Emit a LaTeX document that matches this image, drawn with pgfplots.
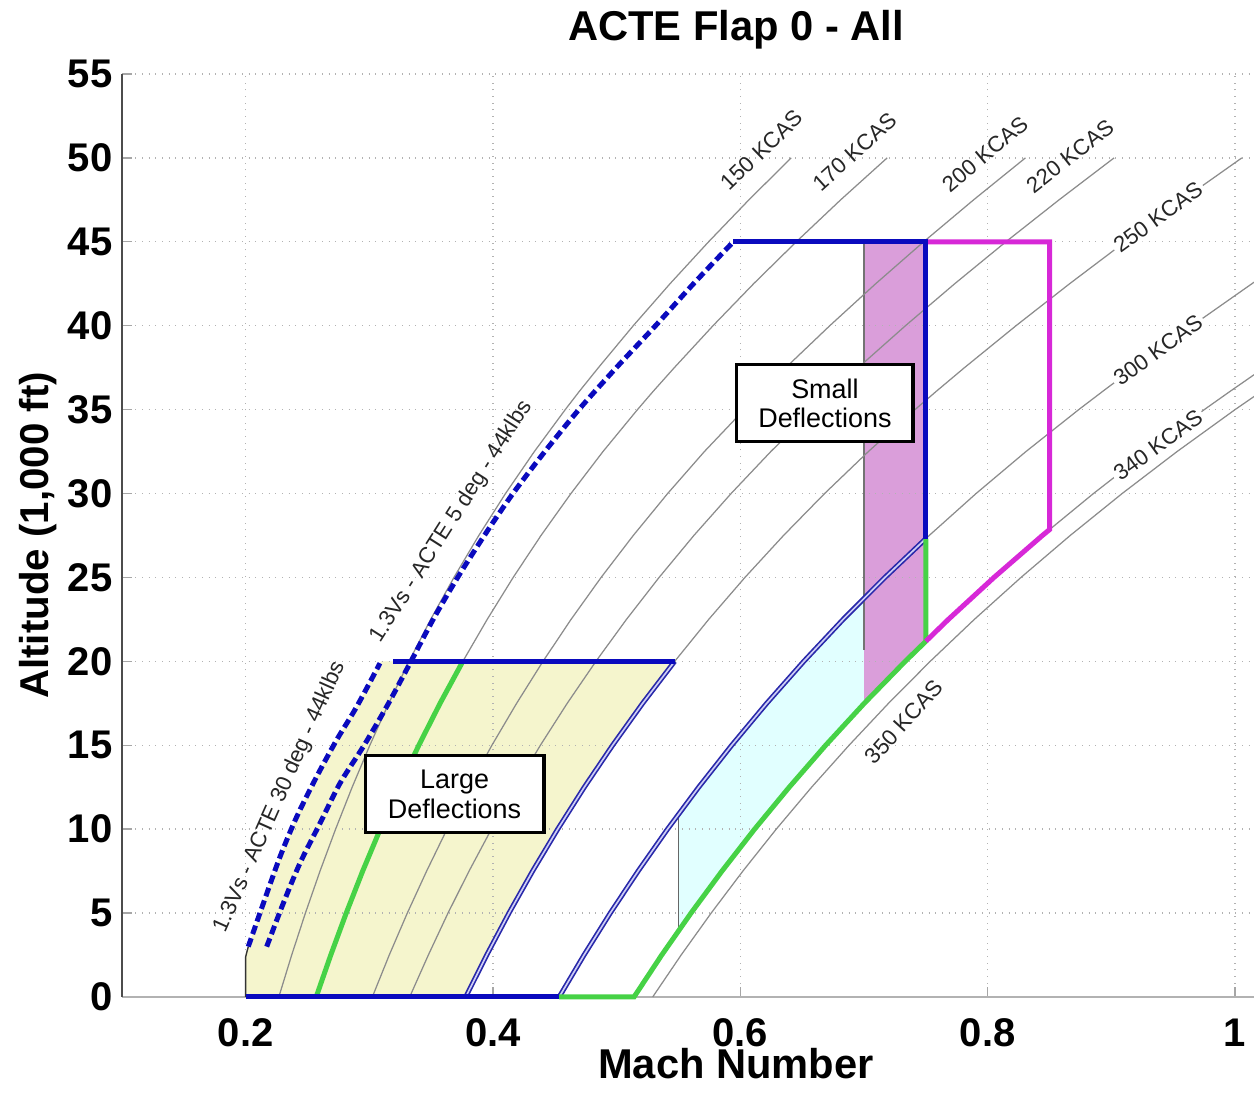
\documentclass[border=0pt]{standalone}
\usepackage{fontspec}
\setmainfont{Liberation Sans}
\usepackage{pgfplots}
\pgfplotsset{compat=1.18}
\definecolor{mblue}{RGB}{10,10,190}
\definecolor{dblue}{RGB}{40,40,170}
\definecolor{lblue}{RGB}{205,205,245}
\definecolor{mgreen}{RGB}{70,210,70}
\definecolor{mmag}{RGB}{215,40,215}
\definecolor{fyel}{RGB}{245,245,205}
\definecolor{fcyan}{RGB}{225,255,255}
\definecolor{fpur}{RGB}{218,158,218}
\tikzset{
  kc/.style={black!45, line width=0.45pt},
  dbl/.style={draw=dblue, double=lblue, line width=0.6pt, double distance=0.6pt},
  thick blue/.style={mblue, line width=1.8pt},
  thick green/.style={mgreen, line width=1.8pt},
  thick mag/.style={mmag, line width=1.8pt},
  dashblue/.style={mblue, line width=1.8pt, dash pattern=on 3.2pt off 1.6pt, smooth},
  kclab/.style={font=\fontsize{8}{9.6}\selectfont, text=black!85, inner sep=1pt},
  boxlab/.style={draw=black, line width=1.1pt, fill=white, align=center, inner sep=0pt,
     minimum height=27.7pt, font=\fontsize{9.7}{10.6}\selectfont}
}
\begin{document}
\begin{tikzpicture}
\begin{axis}[
  at={(0,0)}, anchor=south west,
  set layers,
  scale only axis, width=445.21pt, height=332.28pt,
  xmin=0.1, xmax=1.1, ymin=0, ymax=55,
  xtick={0.2,0.4,0.6,0.8,1}, ytick={0,5,...,55},
  axis x line*=bottom, axis y line*=left,
  x axis line style={-, draw=gray!60, line width=0.6pt},
  y axis line style={-, draw=black!70, line width=0.6pt},
  tick align=inside, major tick length=3.6pt,
  tick style={gray!70, line width=0.5pt},
  grid=major, grid style={dotted, gray!60, line width=0.5pt},
  clip=false,
  ticklabel style={font=\fontsize{14.4}{16}\selectfont\bfseries},
  /pgf/number format/assume math mode=true,
  yticklabel style={anchor=east, inner sep=0pt, xshift=-3.24pt},
  xticklabel style={anchor=north, inner sep=0pt, yshift=-7.6pt},
  title={ACTE Flap 0 - All},
  title style={at={(0.4965,1.0187)}, anchor=base, inner sep=0pt, font=\fontsize{15}{18}\selectfont\bfseries},
  xlabel={Mach Number},
  xlabel style={at={(0.4965,-0.0885)}, anchor=base, inner sep=0pt, font=\fontsize{15}{18}\selectfont\bfseries},
  ylabel={Altitude (1,000 ft)},
  ylabel style={at={(-0.0591,0.5)}, anchor=base, inner sep=0pt, rotate=0, font=\fontsize{14.5}{17}\selectfont\bfseries},
]
% ---------- fills ----------
\addplot[on layer=axis background, fill=fyel, draw=none] coordinates {
 (0.2,0)(0.2,2.6)(0.2021,3.0)(0.2143,5.58)(0.2278,8.36)(0.2413,10.74)(0.2574,13.13)(0.2736,15.32)(0.2898,17.3)(0.3086,19.89)(0.3095,20)
 (0.5469,20)(0.5210,17.5)(0.4967,15)(0.4738,12.5)(0.4523,10)(0.4320,7.5)(0.4129,5)(0.3949,2.5)(0.3779,0)} -- cycle;
\addplot[on layer=axis background, fill=fcyan, draw=none] coordinates {
 (0.55,3.93)(0.5601,5)(0.5851,7.5)(0.6115,10)(0.6395,12.5)(0.6690,15)(0.70,17.49)
 (0.70,23.75)(0.6831,22.5)(0.6513,20)(0.6213,17.5)(0.5930,15)(0.5663,12.5)(0.55,10.88)} -- cycle;
\addplot[on layer=axis background, fill=fpur, draw=none] coordinates {
 (0.70,17.49)(0.7333,20)(0.75,21.196)(0.75,45)(0.70,45)} -- cycle;
% thin edges
\addplot[black!80, line width=0.5pt] coordinates {(0.2,0)(0.2,2.4)(0.2021,3.0)};
\addplot[black!60, line width=0.5pt] coordinates {(0.55,3.93)(0.55,10.88)};
\addplot[black!55, line width=0.5pt] coordinates {(0.70,20.7)(0.70,45)};
% ---------- constant KCAS curves ----------
\addplot[kc] coordinates {(0.2268,0)(0.2372,2.5)(0.2483,5)(0.2601,7.5)(0.2727,10)(0.2861,12.5)(0.3004,15)(0.3157,17.5)(0.3321,20)(0.3496,22.5)(0.3684,25)(0.3885,27.5)(0.4101,30)(0.4334,32.5)(0.4584,35)(0.4698,36.089)(0.4852,37.5)(0.5134,40)(0.5431,42.5)(0.5743,45)(0.6069,47.5)(0.6411,50)};
\addplot[kc] coordinates {(0.2570,0)(0.2688,2.5)(0.2813,5)(0.2946,7.5)(0.3088,10)(0.3239,12.5)(0.3400,15)(0.3572,17.5)(0.3756,20)(0.3953,22.5)(0.4163,25)(0.4388,27.5)(0.4630,30)(0.4889,32.5)(0.5168,35)(0.5295,36.089)(0.5466,37.5)(0.5779,40)(0.6107,42.5)(0.6452,45)(0.6811,47.5)(0.7187,50)};
\addplot[kc] coordinates {(0.3024,0)(0.3161,2.5)(0.3307,5)(0.3463,7.5)(0.3628,10)(0.3804,12.5)(0.3991,15)(0.4191,17.5)(0.4404,20)(0.4631,22.5)(0.4874,25)(0.5134,27.5)(0.5412,30)(0.5709,32.5)(0.6031,35)(0.6173,36.089)(0.6367,37.5)(0.6723,40)(0.7094,42.5)(0.7482,45)(0.7886,47.5)(0.8305,50)};
\addplot[kc] coordinates {(0.3326,0)(0.3477,2.5)(0.3636,5)(0.3806,7.5)(0.3987,10)(0.4179,12.5)(0.4383,15)(0.4600,17.5)(0.4832,20)(0.5079,22.5)(0.5343,25)(0.5624,27.5)(0.5925,30)(0.6246,32.5)(0.6588,35)(0.6752,36.089)(0.6953,37.5)(0.7335,40)(0.7733,42.5)(0.8147,45)(0.8577,47.5)(0.9022,50)};
\addplot[kc] coordinates {(0.3779,0)(0.3949,2.5)(0.4129,5)(0.4320,7.5)(0.4523,10)(0.4738,12.5)(0.4967,15)(0.5210,17.5)(0.5469,20)(0.5744,22.5)(0.6037,25)(0.6349,27.5)(0.6681,30)(0.7035,32.5)(0.7412,35)(0.7584,36.089)(0.7812,37.5)(0.8229,40)(0.8662,42.5)(0.9111,45)(0.9575,47.5)(1.0055,50)};
\addplot[kc] coordinates {(0.4535,0)(0.4736,2.5)(0.4948,5)(0.5173,7.5)(0.5411,10)(0.5663,12.5)(0.5930,15)(0.6213,17.5)(0.6513,20)(0.6831,22.5)(0.7169,25)(0.7527,27.5)(0.7906,30)(0.8309,32.5)(0.8736,35)(0.8930,36.089)(0.9186,37.5)(0.9653,40)(1.0136,42.5)(1.0633,45)};
\addplot[kc] coordinates {(0.5140,0)(0.5364,2.5)(0.5601,5)(0.5851,7.5)(0.6115,10)(0.6395,12.5)(0.6690,15)(0.7002,17.5)(0.7333,20)(0.7682,22.5)(0.8051,25)(0.8442,27.5)(0.8855,30)(0.9291,32.5)(0.9751,35)(0.9960,36.089)(1.0236,37.5)};
\addplot[kc] coordinates {(0.5291,0)(0.5521,2.5)(0.5764,5)(0.6020,7.5)(0.6290,10)(0.6576,12.5)(0.6879,15)(0.7198,17.5)(0.7535,20)(0.7892,22.5)(0.8269,25)(0.8667,27.5)(0.9087,30)(0.9531,32.5)(1.0000,35)(1.0492,37.5)};
% ---------- envelope boundaries ----------
\addplot[dbl] coordinates {(0.3779,0)(0.3949,2.5)(0.4129,5)(0.4320,7.5)(0.4523,10)(0.4738,12.5)(0.4967,15)(0.5210,17.5)(0.5469,20)};
\addplot[dbl] coordinates {(0.4535,0)(0.4736,2.5)(0.4948,5)(0.5173,7.5)(0.5411,10)(0.5663,12.5)(0.5930,15)(0.6213,17.5)(0.6513,20)(0.6831,22.5)(0.7169,25)(0.75,27.311)};
\addplot[thick green] coordinates {(0.2570,0)(0.2688,2.5)(0.2813,5)(0.2946,7.5)(0.3088,10)(0.3239,12.5)(0.3400,15)(0.3572,17.5)(0.3756,20)};
\addplot[thick green] coordinates {(0.4535,0)(0.5140,0)(0.5364,2.5)(0.5601,5)(0.5851,7.5)(0.6115,10)(0.6395,12.5)(0.6690,15)(0.7002,17.5)(0.7333,20)(0.75,21.196)(0.75,27.311)};
\addplot[thick mag] coordinates {(0.75,21.196)(0.7682,22.5)(0.8051,25)(0.8442,27.5)(0.85,27.851)(0.85,45)(0.75,45)};
\addplot[thick blue] coordinates {(0.2,0)(0.4535,0)};
\addplot[thick blue] coordinates {(0.3194,20)(0.5469,20)};
\addplot[thick blue] coordinates {(0.5943,45)(0.75,45)(0.75,27.311)};
\addplot[dashblue] coordinates {(0.2021,3.0)(0.2143,5.58)(0.2278,8.36)(0.2413,10.74)(0.2574,13.13)(0.2736,15.32)(0.2898,17.3)(0.3086,19.89)};
\addplot[dashblue] coordinates {(0.2170,3.0)(0.2304,5.58)(0.2439,7.97)(0.2601,10.35)(0.2763,12.74)(0.2951,14.92)(0.3140,17.3)(0.3329,19.89)(0.3516,22.5)(0.3714,25)(0.3930,27.5)(0.4161,30)(0.4419,32.5)(0.4694,35)(0.4997,37.5)(0.5314,40)(0.5621,42.5)(0.5943,45)};
% ---------- labels ----------
\node[kclab, rotate=44] at (axis cs:0.6175,50.47) {150 KCAS};
\node[kclab, rotate=42] at (axis cs:0.6927,50.35) {170 KCAS};
\node[kclab, rotate=40] at (axis cs:0.7978,50.23) {200 KCAS};
\node[kclab, rotate=38] at (axis cs:0.8666,50.11) {220 KCAS};
\node[kclab, rotate=36, fill=white] at (axis cs:0.9377,46.48) {250 KCAS};
\node[kclab, rotate=36, fill=white] at (axis cs:0.9377,38.55) {300 KCAS};
\node[kclab, rotate=36, fill=white] at (axis cs:0.9377,32.89) {340 KCAS};
\node[kclab, rotate=48] at (axis cs:0.7323,16.39) {350 KCAS};
\node[kclab, rotate=66] at (axis cs:0.2278,11.92) {1.3Vs - ACTE 30 deg - 44klbs};
\node[kclab, rotate=57.5] at (axis cs:0.3666,28.32) {1.3Vs - ACTE 5 deg - 44klbs};
\node[boxlab, minimum width=63.4pt] at (axis cs:0.6684,35.37) {Small\\Deflections};
\node[boxlab, minimum width=64.4pt] at (axis cs:0.3689,12.07) {Large\\Deflections};
\end{axis}
\pgfresetboundingbox
\path (-43.92pt,-38.88pt) rectangle (407.52pt,358.92pt);
\end{tikzpicture}
\end{document}
